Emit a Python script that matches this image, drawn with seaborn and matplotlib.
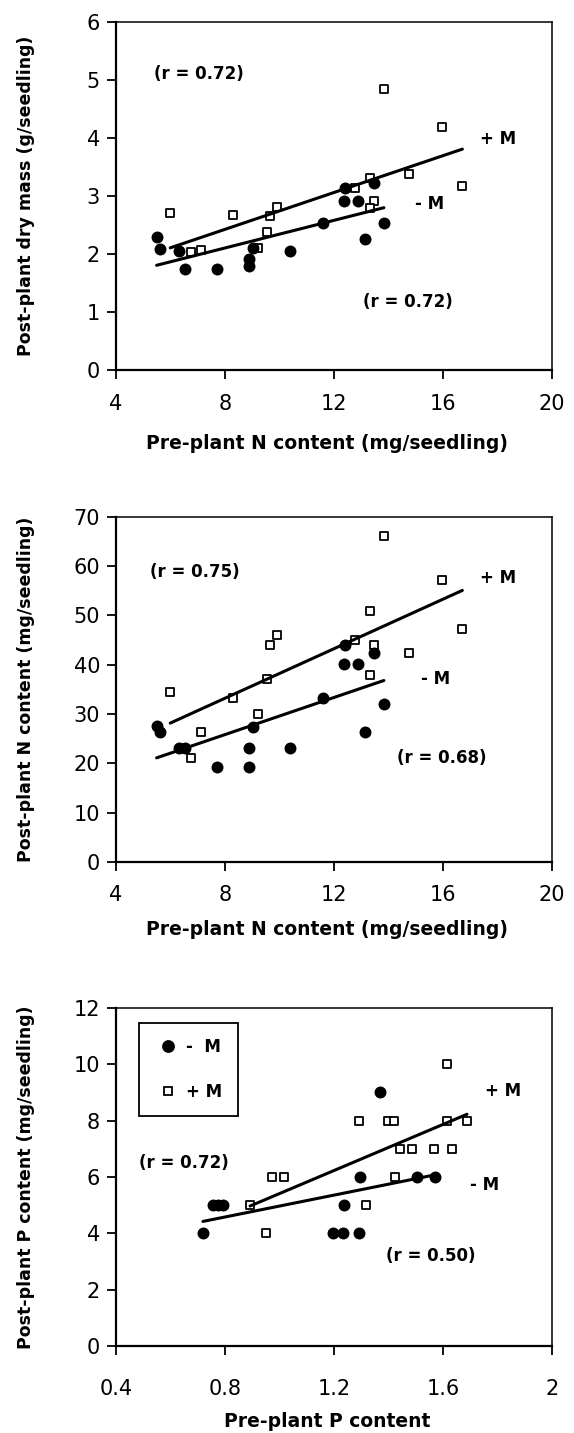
import seaborn as sns
import matplotlib.pyplot as plt
from matplotlib.lines import Line2D


# -M seedlings (filled circles) and +M seedlings (open squares)
N_PRE_MINUS = [5.49, 5.62, 6.32, 6.52, 7.70, 8.89, 8.89, 9.02, 10.40, 11.61,
               12.35, 12.42, 12.89, 13.14, 13.45, 13.83]
DRY_MASS_MINUS = [2.29, 2.08, 2.06, 1.75, 1.75, 1.91, 1.80, 2.10, 2.05, 2.53,
                  2.91, 3.14, 2.91, 2.26, 3.23, 2.54]
N_POST_MINUS = [27.6, 26.3, 23.2, 23.2, 19.3, 23.2, 19.3, 27.4, 23.2, 33.3,
                40.1, 44.0, 40.1, 26.3, 42.3, 32.1]

N_PRE_PLUS = [5.99, 6.75, 7.11, 8.31, 9.22, 9.54, 9.65, 9.92, 12.78, 13.32,
              13.45, 13.32, 13.83, 14.77, 15.96, 16.71]
DRY_MASS_PLUS = [2.71, 2.03, 2.07, 2.67, 2.10, 2.38, 2.66, 2.81, 3.13, 3.31,
                 2.92, 2.80, 4.84, 3.38, 4.19, 3.17]
N_POST_PLUS = [34.4, 21.1, 26.4, 33.3, 30.1, 37.1, 44.0, 46.1, 45.1, 51.0,
               44.1, 38.0, 66.2, 42.3, 57.2, 47.2]

P_PRE_MINUS = [0.719, 0.757, 0.775, 0.793, 1.196, 1.233, 1.237, 1.290,
               1.295, 1.369, 1.505, 1.571]
P_POST_MINUS = [4, 5, 5, 5, 4, 4, 5, 4, 6, 9, 6, 6]
P_PRE_PLUS = [0.892, 0.952, 0.971, 1.015, 1.292, 1.316, 1.399, 1.419, 1.422,
              1.442, 1.488, 1.567, 1.613, 1.613, 1.633, 1.688]
P_POST_PLUS = [5, 4, 6, 6, 8, 5, 8, 8, 6, 7, 7, 7, 10, 8, 7, 8]

N_PRE_TICKS = [4, 8, 12, 16, 20]
DRY_MASS_TICKS = [0, 1, 2, 3, 4, 5, 6]
N_POST_TICKS = [0, 10, 20, 30, 40, 50, 60, 70]
P_PRE_TICKS = [0.4, 0.8, 1.2, 1.6, 2.0]
P_PRE_TICK_LABELS = ["0.4", "0.8", "1.2", "1.6", "2"]
P_POST_TICKS = [0, 2, 4, 6, 8, 10, 12]

SERIES_LABELS = ["-  M", "+ M"]


def draw_panel(ax, x_minus, y_minus, x_plus, y_plus, xticks, yticks):
    sns.scatterplot(x=x_plus, y=y_plus, ax=ax, marker="s", s=36, color="white",
                    edgecolor="black", linewidth=1.3, zorder=3)
    sns.scatterplot(x=x_minus, y=y_minus, ax=ax, marker="o", s=74, color="black",
                    edgecolor="black", linewidth=0, zorder=4)
    for xs, ys in ((x_plus, y_plus), (x_minus, y_minus)):
        sns.regplot(x=xs, y=ys, ax=ax, scatter=False, ci=None, truncate=True,
                    color="black", line_kws={"lw": 2.2, "zorder": 5})

    ax.set_xlim(xticks[0], xticks[-1])
    ax.set_ylim(yticks[0], yticks[-1])
    ax.set_xticks(xticks)
    ax.set_yticks(yticks)
    ax.grid(False)
    ax.set_facecolor("white")

    for side in ["left", "bottom"]:
        ax.spines[side].set_linewidth(1.6)
    for side in ["top", "right"]:
        ax.spines[side].set_linewidth(1.1)
    for spine in ax.spines.values():
        spine.set_color("black")
        spine.set_visible(True)

    ax.tick_params(direction="out", length=6.5, width=1.3, colors="black",
                   labelsize=15)
    ax.tick_params(axis="y", pad=5)


def set_labels(ax, xlabel, ylabel, xlabel_y):
    ax.set_xlabel(xlabel, fontsize=13.5, fontweight="bold", color="black")
    ax.set_ylabel(ylabel, fontsize=12.5, fontweight="bold", color="black")
    ax.xaxis.set_label_coords(0.485, xlabel_y)
    ax.xaxis.label.set_va("center")
    ax.yaxis.set_label_coords(-0.206, 0.5)
    ax.yaxis.label.set_va("center")


def note(ax, x, y, text):
    ax.text(x, y, text, ha="left", va="center", fontsize=12,
            fontweight="bold", color="black", zorder=6)


def main() -> None:
    sns.set_theme(style="ticks")
    plt.rcParams["font.family"] = ["DejaVu Sans"]
    plt.rcParams["text.color"] = "black"
    plt.rcParams["axes.labelcolor"] = "black"

    fig = plt.figure(figsize=(5.74, 14.33), dpi=100)
    fig.patch.set_facecolor("white")

    # Dry mass vs pre-plant N
    ax1 = fig.add_axes([0.2021, 0.7418, 0.7596, 0.2428])
    draw_panel(ax1, N_PRE_MINUS, DRY_MASS_MINUS, N_PRE_PLUS, DRY_MASS_PLUS,
               N_PRE_TICKS, DRY_MASS_TICKS)
    ax1.tick_params(axis="x", pad=11)
    set_labels(ax1, "Pre-plant N content (mg/seedling)",
               "Post-plant dry mass (g/seedling)", -0.21)
    note(ax1, 5.4, 5.11, "(r = 0.72)")
    note(ax1, 17.34, 3.99, "+ M")
    note(ax1, 14.99, 2.86, "- M")
    note(ax1, 13.05, 1.18, "(r = 0.72)")

    # Post-plant N vs pre-plant N
    ax2 = fig.add_axes([0.2021, 0.3985, 0.7596, 0.2408])
    draw_panel(ax2, N_PRE_MINUS, N_POST_MINUS, N_PRE_PLUS, N_POST_PLUS,
               N_PRE_TICKS, N_POST_TICKS)
    ax2.tick_params(axis="x", pad=10)
    set_labels(ax2, "Pre-plant N content (mg/seedling)",
               "Post-plant N content (mg/seedling)", -0.197)
    note(ax2, 5.23, 58.9, "(r = 0.75)")
    note(ax2, 17.34, 57.6, "+ M")
    note(ax2, 15.19, 37.2, "- M")
    note(ax2, 14.30, 21.0, "(r = 0.68)")

    # Post-plant P vs pre-plant P
    ax3 = fig.add_axes([0.2021, 0.0607, 0.7596, 0.2359])
    draw_panel(ax3, P_PRE_MINUS, P_POST_MINUS, P_PRE_PLUS, P_POST_PLUS,
               P_PRE_TICKS, P_POST_TICKS)
    ax3.set_xticklabels(P_PRE_TICK_LABELS)
    ax3.tick_params(axis="x", pad=17)
    set_labels(ax3, "Pre-plant P content",
               "Post-plant P content (mg/seedling)", -0.222)
    note(ax3, 0.483, 6.48, "(r = 0.72)")
    note(ax3, 1.754, 9.04, "+ M")
    note(ax3, 1.70, 5.72, "- M")
    note(ax3, 1.389, 3.19, "(r = 0.50)")

    handles = [
        Line2D([], [], marker="o", ls="", color="black", markersize=8.2),
        Line2D([], [], marker="s", ls="", markerfacecolor="white",
               markeredgecolor="black", markeredgewidth=1.3, markersize=6.2),
    ]
    leg = ax3.legend(handles, SERIES_LABELS, loc="upper left",
                     bbox_to_anchor=(0.0525, 0.955), borderaxespad=0,
                     frameon=True, fancybox=False, framealpha=1,
                     edgecolor="black", borderpad=0.9, labelspacing=1.6,
                     handlelength=1.75, handletextpad=0.2,
                     prop={"weight": "bold", "size": 12})
    leg.get_frame().set_linewidth(1.3)
    leg.set_zorder(7)

    fig.savefig("out.png", dpi=100, facecolor="white")


if __name__ == "__main__":
    main()
